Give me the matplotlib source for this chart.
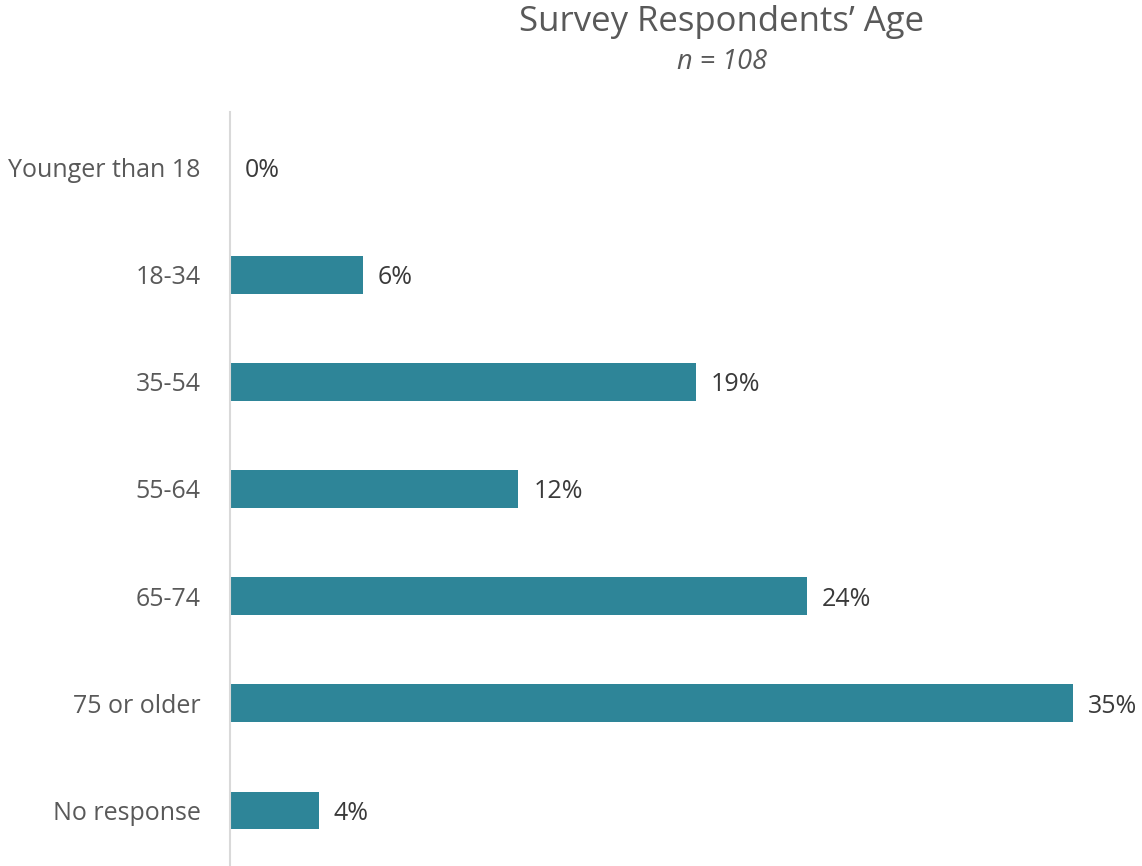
import numpy as np
import matplotlib
matplotlib.use('Agg')
from matplotlib import pyplot as plt

# survey data (share of n = 108)
categories = ['Younger than 18', '18-34', '35-54', '55-64', '65-74', '75 or older', 'No response']
counts = [0, 6, 21, 13, 26, 38, 4]
n_total = 108
percents = [100.0 * c / n_total for c in counts]
value_labels = ['%d%%' % round(p) for p in percents]

bar_color = '#2E8598'
label_gray = '#595959'
value_dark = '#3A3A3A'

plt.rcParams['font.family'] = ['Open Sans', 'DejaVu Sans']

fig = plt.figure(figsize=(11.42, 8.66), dpi=100)
ax = fig.add_axes([230 / 1142, 0.0, 912 / 1142, 754 / 866])

y = np.arange(len(categories))
ax.barh(y, percents, height=0.35, color=bar_color)
ax.set_ylim(len(categories) - 0.48, -0.52)
ax.set_xlim(0, 912 / 23.96)

# value labels right of each bar
for yi, p, lab in zip(y, percents, value_labels):
    ax.annotate(lab, (p, yi), xytext=(15, 0), textcoords='offset pixels',
                va='center_baseline', ha='left', fontsize=18, color=value_dark)

ax.set_yticks(y)
ax.set_yticklabels(categories, fontsize=18, color=label_gray)
ax.tick_params(axis='y', length=0, pad=21)
ax.set_xticks([])

for side in ['top', 'right', 'bottom']:
    ax.spines[side].set_visible(False)
ax.spines['left'].set_color('#D9D9D9')
ax.spines['left'].set_linewidth(1.5)

fig.text(722 / 1142, 1 - 22 / 866, 'Survey Respondents\u2019 Age', ha='center', va='center',
         fontsize=25, color=label_gray)
fig.text(722 / 1142, 1 - 62 / 866, 'n = 108', ha='center', va='center',
         fontsize=19.5, color=label_gray, style='italic')

fig.savefig('out.png', dpi=100)
